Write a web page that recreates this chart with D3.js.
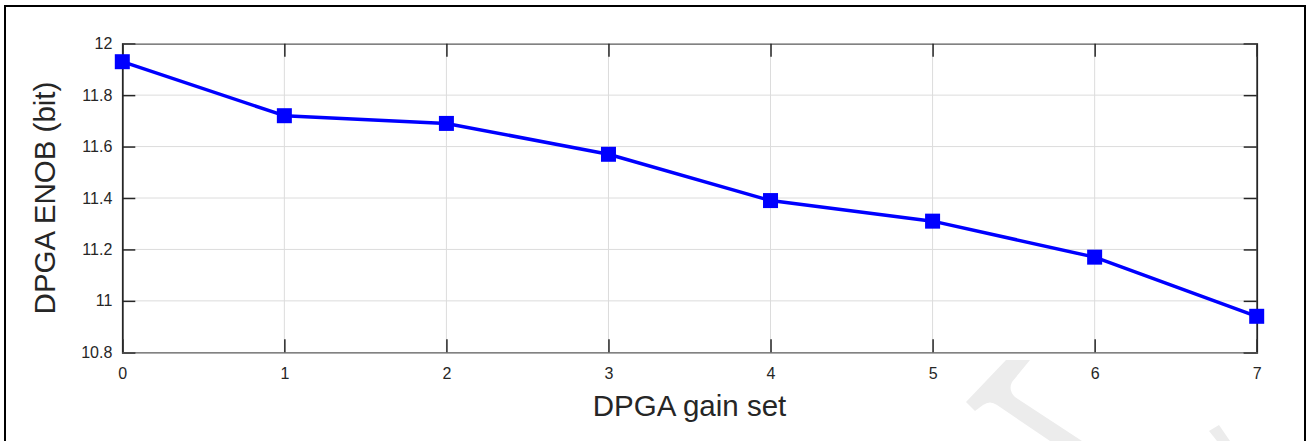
<!DOCTYPE html>
<html>
<head>
<meta charset="utf-8">
<script src="https://cdn.jsdelivr.net/npm/d3@7"></script>
<style>
  html, body { margin: 0; padding: 0; background: #fff; }
  svg { display: block; }
  text { font-family: "Liberation Sans", Arial, sans-serif; fill: #262626; }
</style>
</head>
<body>
<svg id="chart" width="1309" height="441"></svg>
<script>
// Effective number of bits of the DPGA for each gain setting
const gainSets = [0, 1, 2, 3, 4, 5, 6, 7];
const enob = [11.93, 11.72, 11.69, 11.57, 11.39, 11.31, 11.17, 10.94];
const xTicks = [0, 1, 2, 3, 4, 5, 6, 7];
const yTicks = [10.8, 11, 11.2, 11.4, 11.6, 11.8, 12];
const xTitle = "DPGA gain set";
const yTitle = "DPGA ENOB (bit)";

const svg = d3.select("#chart");
const plot = { left: 122.3, right: 1256.7, top: 43.7, bottom: 352.3 };

const x = d3.scaleLinear().domain([0, 7]).range([plot.left, plot.right]);
const y = d3.scaleLinear().domain([10.8, 12]).range([plot.bottom, plot.top]);

// faint background watermark strokes
const mark = svg.append("g").attr("fill", "#ececec");
mark.append("path").attr("d", "M1006,360 L1030,360 L1012,382 Q1008,390 1015,397 L1082,441 L1050,441 L997,405 Q990,400 983,405 L975,411 L966,402 Z");
mark.append("path").attr("d", "M1209,431 L1219,425 L1230,441 L1217,441 Z");

// outer frame
svg.append("rect")
  .attr("x", 5).attr("y", 6).attr("width", 1300).attr("height", 460)
  .attr("fill", "none").attr("stroke", "#000").attr("stroke-width", 2);

// grid
const grid = svg.append("g").attr("stroke", "#dcdcdc").attr("stroke-width", 1);
grid.selectAll(".gx").data(xTicks.slice(1, -1)).join("line")
  .attr("x1", d => x(d)).attr("x2", d => x(d))
  .attr("y1", plot.top).attr("y2", plot.bottom);
grid.selectAll(".gy").data(yTicks.slice(1, -1)).join("line")
  .attr("x1", plot.left).attr("x2", plot.right)
  .attr("y1", d => y(d)).attr("y2", d => y(d));

// axes with inward ticks on all four sides
const tickLen = 13;
const axisColor = "#262626";

const yLeft = svg.append("g").attr("transform", `translate(${plot.left},0)`)
  .call(d3.axisLeft(y).tickValues(yTicks).tickSize(-tickLen).tickPadding(10)
    .tickFormat(d => d3.format("~g")(d)));
const yRight = svg.append("g").attr("transform", `translate(${plot.right},0)`)
  .call(d3.axisRight(y).tickValues(yTicks).tickSize(-tickLen).tickFormat(""));
const xBottom = svg.append("g").attr("transform", `translate(0,${plot.bottom})`)
  .call(d3.axisBottom(x).tickValues(xTicks).tickSize(-tickLen).tickPadding(15)
    .tickFormat(d3.format("d")));
const xTop = svg.append("g").attr("transform", `translate(0,${plot.top})`)
  .call(d3.axisTop(x).tickValues(xTicks).tickSize(-tickLen).tickFormat(""));

[yLeft, yRight, xBottom, xTop].forEach(g => {
  g.attr("font-size", 16).attr("font-family", "'Liberation Sans', Arial, sans-serif");
  g.selectAll(".tick line").attr("stroke", axisColor).attr("stroke-width", 1.5);
  g.selectAll("text").attr("font-size", 16).style("font-size", "16px").attr("fill", axisColor);
});
[xBottom, xTop].forEach(g => g.select(".domain").attr("stroke", "#5a5a5a").attr("stroke-width", 1.2));
[yLeft, yRight].forEach(g => g.select(".domain").attr("stroke", axisColor).attr("stroke-width", 1.8));
xBottom.selectAll(".tick text").attr("dy", "0.71em");

// data line
const line = d3.line().x((d, i) => x(gainSets[i])).y(d => y(d));
svg.append("path").datum(enob)
  .attr("d", line)
  .attr("fill", "none").attr("stroke", "#0000ff").attr("stroke-width", 3.5)
  .attr("stroke-linejoin", "round");

// square markers
const ms = 15;
svg.append("g").selectAll("rect").data(enob).join("rect")
  .attr("x", (d, i) => x(gainSets[i]) - ms / 2)
  .attr("y", d => y(d) - ms / 2)
  .attr("width", ms).attr("height", ms)
  .attr("fill", "#0000ff");

// axis titles
svg.append("text")
  .attr("x", (plot.left + plot.right) / 2).attr("y", 416)
  .attr("text-anchor", "middle").style("font-size", "29.5px")
  .text(xTitle);
svg.append("text")
  .attr("transform", `translate(55,${(plot.top + plot.bottom) / 2}) rotate(-90)`)
  .attr("text-anchor", "middle").style("font-size", "29.5px")
  .text(yTitle);
</script>
</body>
</html>
